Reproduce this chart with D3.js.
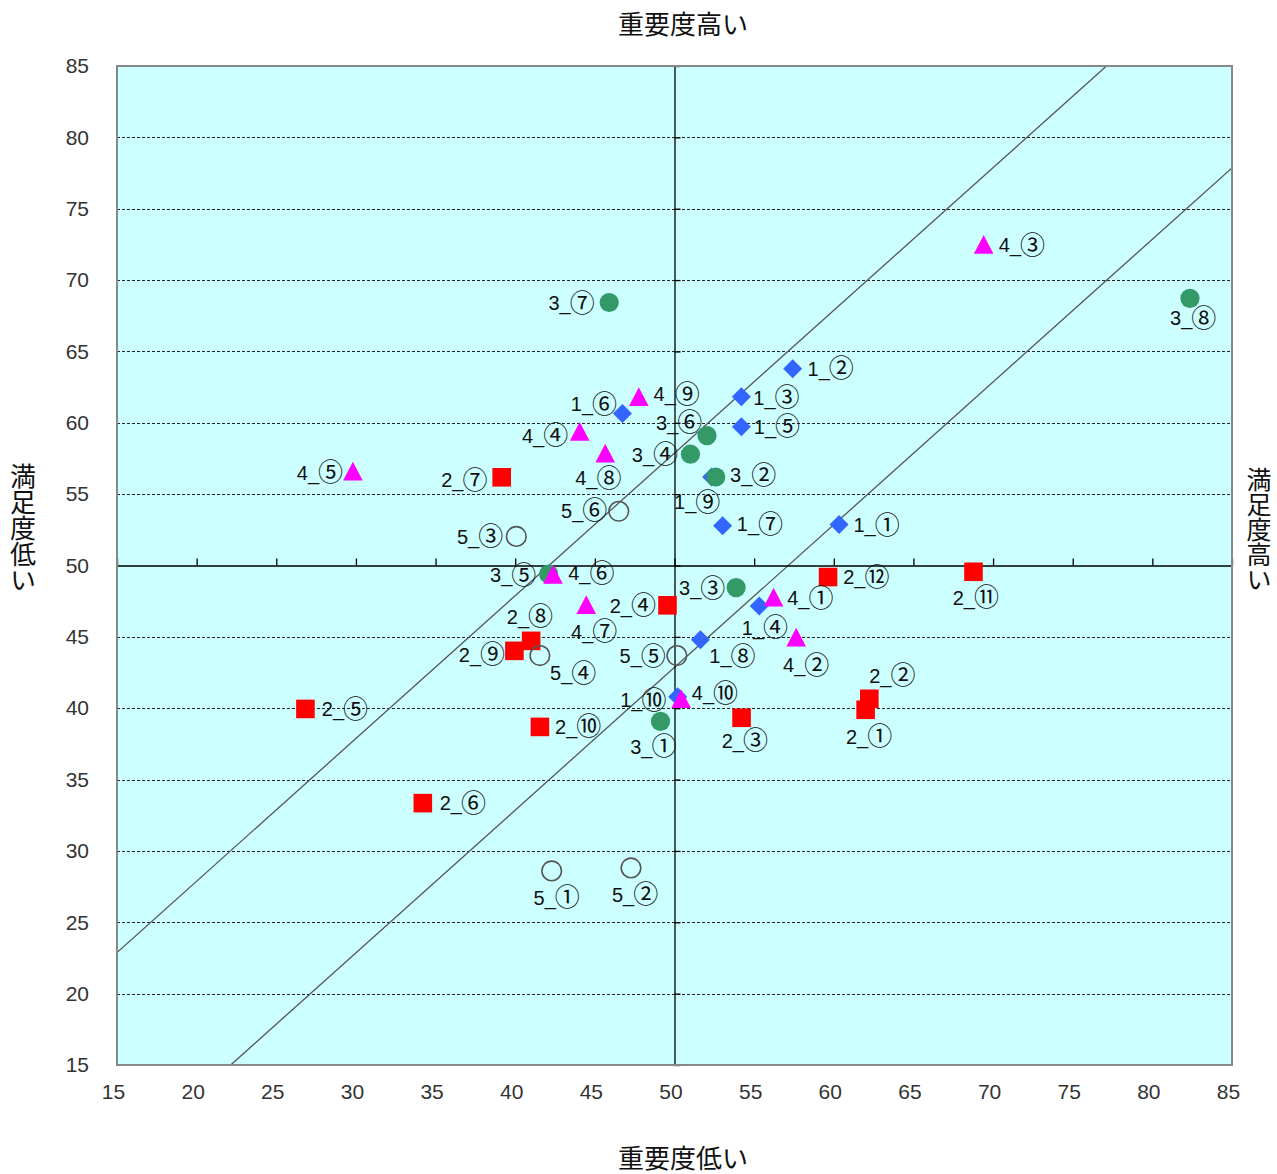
<!DOCTYPE html>
<html>
<head>
<meta charset="utf-8">
<script src="https://cdn.jsdelivr.net/npm/d3@7"></script>
<style>
  html, body { margin: 0; padding: 0; background: #ffffff; }
  svg { display: block; }
</style>
</head>
<body>
<svg id="chart" width="1277" height="1174"></svg>
<script>
// ---------------- DATA ----------------
// x = 重要度 (importance), y = 満足度 (satisfaction)
const tickValues = [15, 20, 25, 30, 35, 40, 45, 50, 55, 60, 65, 70, 75, 80, 85];

const series1Labels = ["1_①","1_②","1_③","1_④","1_⑤","1_⑥","1_⑦","1_⑧","1_⑨","1_⑩"];
const series1X = [60.33, 57.42, 54.2, 55.32, 54.2, 46.73, 53.02, 51.63, 52.33, 50.2];
const series1Y = [52.87, 63.78, 61.83, 47.17, 59.72, 60.65, 52.78, 44.8, 56.2, 40.8];

const series2Labels = ["2_①","2_②","2_③","2_④","2_⑤","2_⑥","2_⑦","2_⑧","2_⑨","2_⑩","2_⑪","2_⑫"];
const series2X = [62.0, 62.23, 54.21, 49.56, 26.83, 34.2, 39.15, 41.0, 39.95, 41.55, 68.77, 59.64];
const series2Y = [39.89, 40.66, 39.33, 47.21, 39.95, 33.35, 56.18, 44.72, 44.02, 38.69, 49.56, 49.19];

const series3Labels = ["3_①","3_②","3_③","3_④","3_⑤","3_⑥","3_⑦","3_⑧"];
const series3X = [49.12, 52.59, 53.87, 51.0, 42.1, 52.04, 45.9, 82.36];
const series3Y = [39.08, 56.2, 48.45, 57.8, 49.4, 59.1, 68.43, 68.72];

const series4Labels = ["4_①","4_②","4_③","4_④","4_⑤","4_⑥","4_⑦","4_⑧","4_⑨","4_⑩"];
const series4X = [56.22, 57.64, 69.41, 44.05, 29.81, 42.37, 44.46, 45.65, 47.76, 50.42];
const series4Y = [47.78, 44.97, 72.49, 59.39, 56.6, 49.37, 47.25, 57.87, 61.82, 40.66];

const series5Labels = ["5_①","5_②","5_③","5_④","5_⑤","5_⑥"];
const series5X = [42.29, 47.27, 40.07, 41.55, 50.15, 46.5];
const series5Y = [28.6, 28.81, 52.04, 43.69, 43.69, 53.8];

// reference diagonal lines (endpoints in data units)
const refLineUpper = [[15, 22.88], [77.12, 85]];
const refLineLower = [[22.14, 15], [85, 77.86]];

// ---------------- LAYOUT (label offsets in px, label centre relative to marker) ----------------
const series1LabelOffsets = [[37.5,0.5],[38,0],[35,1],[5.7,22],[35.5,0],[-28.5,-9.5],[37.3,-1.8],[32,16.6],[-14.4,25],[-34.4,3.3]];
const series2LabelOffsets = [[3.5,27],[23,-23],[3.3,23],[-34.7,0.6],[39.5,0.4],[40,0],[-37.4,2.8],[-1.2,-24],[-32.5,4],[38.3,0],[2.4,26],[38.3,0.3]];
const series3LabelOffsets = [[-7.2,25.5],[37.5,-2],[-33.9,0.8],[-35.5,0.8],[-35.5,1],[-27.8,-13],[-37.6,0.8],[3.3,20]];
const series4LabelOffsets = [[36.8,1],[10,28],[38.3,0.5],[-34.7,4.3],[-33,1.3],[38.3,-1.2],[7.9,27],[-6.9,25],[37.9,-2.8],[33.8,-5.5]];
const series5LabelOffsets = [[5,26.7],[4,27],[-36.3,0.4],[33.3,17.8],[-34.2,0.8],[-34.5,-0.5]];

// ---------------- CHART ----------------
const svg = d3.select("#chart");
const x = d3.scaleLinear().domain([15, 85]).range([117, 1232]);
const y = d3.scaleLinear().domain([15, 85]).range([1065, 66]);

const latinFont = "'Liberation Sans',Arial,sans-serif";
const cjkFont = "'Noto Sans CJK JP','Noto Sans CJK SC',sans-serif";

// plot background
svg.append("rect")
  .attr("x", x(15)).attr("y", y(85))
  .attr("width", x(85) - x(15)).attr("height", y(15) - y(85))
  .attr("fill", "#CCFFFF");

// clip
svg.append("defs").append("clipPath").attr("id", "plotClip")
  .append("rect")
  .attr("x", x(15)).attr("y", y(85))
  .attr("width", x(85) - x(15)).attr("height", y(15) - y(85));

// dashed horizontal gridlines
svg.append("g").selectAll("line")
  .data(tickValues.filter(v => v !== 15 && v !== 85 && v !== 50))
  .join("line")
  .attr("x1", x(15)).attr("x2", x(85))
  .attr("y1", d => Math.round(y(d)) + 0.5).attr("y2", d => Math.round(y(d)) + 0.5)
  .attr("stroke", "#222").attr("stroke-width", 1)
  .attr("stroke-dasharray", "3,2");

// diagonal reference lines
const lineGen = d3.line().x(d => x(d[0])).y(d => y(d[1]));
svg.append("g").attr("clip-path", "url(#plotClip)")
  .selectAll("path")
  .data([refLineUpper, refLineLower])
  .join("path")
  .attr("d", lineGen)
  .attr("fill", "none")
  .attr("stroke", "#555")
  .attr("stroke-width", 1.3);

// centre axes (crossing at 50,50) with ticks
const hAxis = svg.append("g")
  .attr("transform", `translate(0,${y(50)})`)
  .call(d3.axisTop(x).tickValues(tickValues).tickSize(7).tickSizeOuter(0).tickFormat(""));
hAxis.selectAll("path,line").attr("stroke", "#000").attr("stroke-width", 1.3);

const vAxis = svg.append("g")
  .attr("transform", `translate(${x(50)},0)`)
  .call(d3.axisRight(y).tickValues(tickValues).tickSize(6).tickSizeOuter(0).tickFormat(""));
vAxis.selectAll("path,line").attr("stroke", "#000").attr("stroke-width", 1.3);

// plot border
svg.append("rect")
  .attr("x", x(15)).attr("y", y(85))
  .attr("width", x(85) - x(15)).attr("height", y(15) - y(85))
  .attr("fill", "none").attr("stroke", "#888").attr("stroke-width", 2);

// tick labels
const bottomAxis = svg.append("g")
  .attr("transform", `translate(-4,${y(15)})`)
  .call(d3.axisBottom(x).tickValues(tickValues).tickSize(0).tickPadding(19));
bottomAxis.select(".domain").remove();
bottomAxis.selectAll("text")
  .attr("font-family", latinFont)
  .attr("font-size", 21).attr("fill", "#333");

const leftAxis = svg.append("g")
  .attr("transform", `translate(${x(15)},0)`)
  .call(d3.axisLeft(y).tickValues(tickValues).tickSize(0).tickPadding(28));
leftAxis.select(".domain").remove();
leftAxis.selectAll("text")
  .attr("font-family", latinFont)
  .attr("font-size", 21).attr("fill", "#333");

// ---------------- MARKERS ----------------
function buildSeries(labels, xs, ys, offs) {
  return labels.map((name, i) => ({ name, x: xs[i], y: ys[i], off: offs[i] }));
}
const seriesDefs = [
  { data: buildSeries(series1Labels, series1X, series1Y, series1LabelOffsets), shape: "diamond", fill: "#3366FF", stroke: "none" },
  { data: buildSeries(series2Labels, series2X, series2Y, series2LabelOffsets), shape: "square", fill: "#FF0000", stroke: "none" },
  { data: buildSeries(series3Labels, series3X, series3Y, series3LabelOffsets), shape: "circle", fill: "#339966", stroke: "none" },
  { data: buildSeries(series4Labels, series4X, series4Y, series4LabelOffsets), shape: "triangle", fill: "#FF00FF", stroke: "none" },
  { data: buildSeries(series5Labels, series5X, series5Y, series5LabelOffsets), shape: "ocircle", fill: "none", stroke: "#555" }
];

function shapePath(shape) {
  switch (shape) {
    case "diamond": return "M0,-9.5L9.5,0L0,9.5L-9.5,0Z";
    case "square": return "M-9.3,-9.3H9.3V9.3H-9.3Z";
    case "triangle": return "M0,-9.5L9.8,9.3L-9.8,9.3Z";
    case "circle": return d3.arc()({ innerRadius: 0, outerRadius: 9.6, startAngle: 0, endAngle: 2 * Math.PI });
    case "ocircle": return d3.arc()({ innerRadius: 0, outerRadius: 9.8, startAngle: 0, endAngle: 2 * Math.PI });
  }
}

const markerLayer = svg.append("g");
const labelLayer = svg.append("g");

seriesDefs.forEach(s => {
  markerLayer.append("g").selectAll("path")
    .data(s.data)
    .join("path")
    .attr("transform", d => `translate(${x(d.x)},${y(d.y)})`)
    .attr("d", shapePath(s.shape))
    .attr("fill", s.fill)
    .attr("stroke", s.stroke)
    .attr("stroke-width", s.shape === "ocircle" ? 1.6 : 0);
});

seriesDefs.forEach(s => {
  const t = labelLayer.append("g").selectAll("text")
    .data(s.data)
    .join("text")
    .attr("x", d => x(d.x) + d.off[0])
    .attr("y", d => y(d.y) + d.off[1] + 7)
    .attr("text-anchor", "middle")
    .attr("font-size", 20)
    .attr("fill", "#111");
  t.append("tspan")
    .attr("font-family", latinFont)
    .text(d => d.name.slice(0, 2));
  t.append("tspan")
    .attr("font-family", cjkFont)
    .attr("font-size", 25)
    .attr("dx", -1)
    .attr("dy", 1.5)
    .text(d => d.name.slice(2));
});

// ---------------- AXIS TITLES ----------------
svg.append("text")
  .attr("x", 683).attr("y", 34)
  .attr("text-anchor", "middle")
  .attr("font-family", cjkFont).attr("font-size", 26).attr("fill", "#111")
  .text("重要度高い");

svg.append("text")
  .attr("x", 683).attr("y", 1168)
  .attr("text-anchor", "middle")
  .attr("font-family", cjkFont).attr("font-size", 26).attr("fill", "#111")
  .text("重要度低い");

function verticalTitle(str, cx, cy, size) {
  svg.append("text")
    .attr("x", cx).attr("y", cy)
    .attr("text-anchor", "middle")
    .style("writing-mode", "vertical-rl")
    .attr("font-family", cjkFont).attr("font-size", size).attr("fill", "#111")
    .text(str);
}
verticalTitle("満足度低い", 23, 528, 26);
verticalTitle("満足度高い", 1259, 529, 25);
</script>
</body>
</html>
